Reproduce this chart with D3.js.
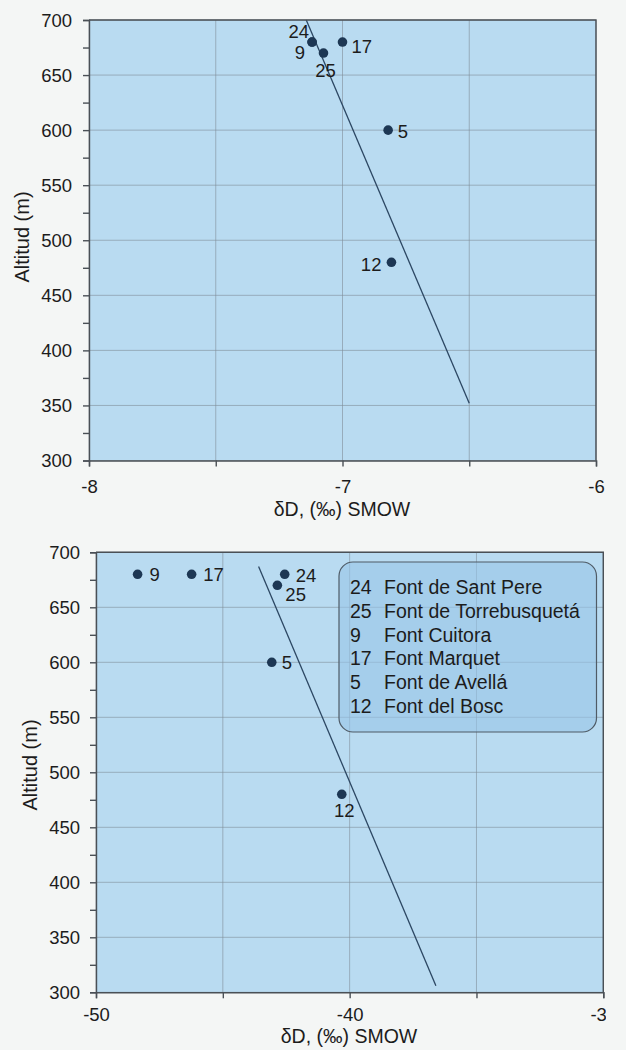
<!DOCTYPE html>
<html>
<head>
<meta charset="utf-8">
<script src="https://cdn.jsdelivr.net/npm/d3@7"></script>
<style>
  html, body { margin: 0; padding: 0; background: #f4f6f5; }
  svg { display: block; }
  text { font-family: "Liberation Sans", Arial, Helvetica, sans-serif; fill: #1c1c1c; }
</style>
</head>
<body>
<svg id="chart" width="626" height="1050"></svg>
<script>
// Spring sites: id, name and altitude (m)
const siteIds = ["24", "25", "9", "17", "5", "12"];
const siteNames = ["Font de Sant Pere", "Font de Torrebusquetá", "Font Cuitora", "Font Marquet", "Font de Avellá", "Font del Bosc"];
const altitude = [680, 670, 680, 680, 600, 480];

// Isotope values per site, upper and lower plot
const isoUpper = [-7.12, -7.075, -7.12, -7.0, -6.82, -6.807];
const isoLower = [-42.56, -42.85, -48.36, -46.23, -43.07, -40.31];

// Fitted altitude lines (isotope value, altitude)
const fitUpperX = [-7.143, -6.5];
const fitUpperY = [700, 352];
const fitLowerX = [-43.59, -36.6];
const fitLowerY = [687, 306];

// Axis ranges and tick values
const yDomain = [300, 700];
const yMajorTicks = [300, 350, 400, 450, 500, 550, 600, 650, 700];
const yMinorTicks = [325, 375, 425, 475, 525, 575, 625, 675];
const xUpperDomain = [-8, -6];
const xUpperTicks = [-8, -7.5, -7, -6.5, -6];
const xUpperLabels = [-8, -7, -6];
const xLowerDomain = [-50, -30];
const xLowerTicks = [-50, -45, -40, -35, -30];
const xLowerLabels = [-50, -40, -30];

const xTitle = "\u03b4D, (\u2030) SMOW";
const yTitle = "Altitud (m)";

// Label placement around each dot: [anchor, dx, dy]
const labelPlaceUpper = {
  "24": ["end", -3, -4],
  "9":  ["end", -7, 17],
  "17": ["start", 9, 10.5],
  "25": ["middle", 2, 24],
  "5":  ["start", 9.5, 7.5],
  "12": ["end", -10, 8.5]
};
const labelPlaceLower = {
  "9":  ["start", 12, 6.5],
  "17": ["start", 11.5, 6.5],
  "24": ["start", 11, 7.5],
  "25": ["start", 8, 15.5],
  "5":  ["start", 10, 6.5],
  "12": ["middle", 2.5, 22.5]
};

const svg = d3.select("#chart");

const defs = svg.append("defs");
defs.append("clipPath").attr("id", "lowerClip")
  .append("rect").attr("x", 0).attr("y", 530).attr("width", 606).attr("height", 520);

function drawPanel(cfg) {
  const g = svg.append("g");
  if (cfg.clip) g.attr("clip-path", cfg.clip);

  const x = d3.scaleLinear().domain(cfg.xDomain).range([cfg.left, cfg.right]);
  const y = d3.scaleLinear().domain(yDomain).range([cfg.bottom, cfg.top]);

  // plot background
  g.append("rect")
    .attr("x", cfg.left).attr("y", cfg.top)
    .attr("width", cfg.right - cfg.left).attr("height", cfg.bottom - cfg.top)
    .attr("fill", "#b9dbf1");

  // grid
  g.append("g").selectAll("line.gx").data(cfg.xTicks).join("line")
    .attr("x1", d => x(d)).attr("x2", d => x(d))
    .attr("y1", cfg.top).attr("y2", cfg.bottom)
    .attr("stroke", "#7f8d99").attr("stroke-width", 0.8).attr("stroke-opacity", 0.75);
  g.append("g").selectAll("line.gy").data(yMajorTicks).join("line")
    .attr("x1", cfg.left).attr("x2", cfg.right)
    .attr("y1", d => y(d)).attr("y2", d => y(d))
    .attr("stroke", "#7f8d99").attr("stroke-width", 0.8).attr("stroke-opacity", 0.75);

  // legend (drawn under the data marks)
  if (cfg.legend) {
    const L = cfg.legend;
    const lg = g.append("g");
    lg.append("rect")
      .attr("x", L.x).attr("y", L.y).attr("width", L.w).attr("height", L.h)
      .attr("rx", 14).attr("ry", 14)
      .attr("fill", "#98c4e8").attr("fill-opacity", 0.6)
      .attr("stroke", "#4f5b66").attr("stroke-width", 1.2);
    const rows = lg.selectAll("g.row").data(siteIds).join("g")
      .attr("transform", (d, i) => `translate(0,${L.firstBaseline + i * L.step})`);
    rows.append("text").attr("x", L.numX).attr("font-size", 19.5).text(d => d);
    rows.append("text").attr("x", L.nameX).attr("font-size", 19.5).text((d, i) => siteNames[i]);
  }

  // fitted line
  const fit = cfg.fitX.map((v, i) => [v, cfg.fitY[i]]);
  g.append("path")
    .attr("d", d3.line().x(d => x(d[0])).y(d => y(d[1]))(fit))
    .attr("fill", "none").attr("stroke", "#2c4763").attr("stroke-width", 1.3);

  // points
  const pts = siteIds.map((id, i) => ({ id, iso: cfg.iso[i], alt: altitude[i] }));
  g.append("g").selectAll("circle").data(pts).join("circle")
    .attr("cx", d => x(d.iso)).attr("cy", d => y(d.alt)).attr("r", 4.8)
    .attr("fill", "#1d3754");
  g.append("g").selectAll("text").data(pts).join("text")
    .attr("x", d => x(d.iso) + cfg.labels[d.id][1])
    .attr("y", d => y(d.alt) + cfg.labels[d.id][2])
    .attr("text-anchor", d => cfg.labels[d.id][0])
    .attr("font-size", 18.5)
    .text(d => d.id);

  // frame (top and right)
  g.append("path")
    .attr("d", `M${cfg.left},${cfg.top}H${cfg.right}V${cfg.bottom}`)
    .attr("fill", "none").attr("stroke", "#4a5056").attr("stroke-width", 1.4);

  // y axis
  const yAxis = g.append("g").attr("transform", `translate(${cfg.left},0)`);
  yAxis.call(d3.axisLeft(y).tickValues(yMajorTicks.concat(yMinorTicks))
    .tickSize(6).tickPadding(cfg.yPad)
    .tickFormat(d => yMajorTicks.includes(d) ? d : ""));
  yAxis.selectAll("text").attr("font-size", 18.5).attr("font-family", null).attr("dy", "0.34em");
  yAxis.selectAll("line, path").attr("stroke", "#4a5056").attr("stroke-width", 1.4);

  // x axis
  const xAxis = g.append("g").attr("transform", `translate(0,${cfg.bottom})`);
  xAxis.call(d3.axisBottom(x).tickValues(cfg.xTicks)
    .tickSize(6).tickSizeOuter(6).tickPadding(cfg.xPad)
    .tickFormat(d => cfg.xLabels.includes(d) ? d3.format("d")(d).replace("\u2212", "-") : ""));
  xAxis.selectAll("text").attr("font-size", 18.5).attr("font-family", null);
  xAxis.selectAll("line, path").attr("stroke", "#4a5056").attr("stroke-width", 1.4);

  // titles
  g.append("text")
    .attr("x", cfg.xTitlePos[0]).attr("y", cfg.xTitlePos[1])
    .attr("text-anchor", "middle").attr("font-size", 19.5).text(xTitle);
  g.append("text")
    .attr("transform", `translate(${cfg.yTitlePos[0]},${cfg.yTitlePos[1]}) rotate(-90)`)
    .attr("text-anchor", "middle").attr("font-size", 20).text(yTitle);
}

drawPanel({
  left: 89, right: 596, top: 20, bottom: 460.5,
  xDomain: xUpperDomain, xTicks: xUpperTicks, xLabels: xUpperLabels,
  iso: isoUpper, fitX: fitUpperX, fitY: fitUpperY, labels: labelPlaceUpper,
  yPad: 11, xPad: 13,
  xTitlePos: [342, 516], yTitlePos: [29, 237]
});

drawPanel({
  left: 96, right: 603.3, top: 552.3, bottom: 992.3,
  xDomain: xLowerDomain, xTicks: xLowerTicks, xLabels: xLowerLabels,
  iso: isoLower, fitX: fitLowerX, fitY: fitLowerY, labels: labelPlaceLower,
  yPad: 10, xPad: 10, clip: "url(#lowerClip)",
  xTitlePos: [349, 1043], yTitlePos: [37, 765],
  legend: { x: 339, y: 562, w: 257.5, h: 170, numX: 350, nameX: 384, firstBaseline: 594, step: 23.8 }
});
</script>
</body>
</html>
